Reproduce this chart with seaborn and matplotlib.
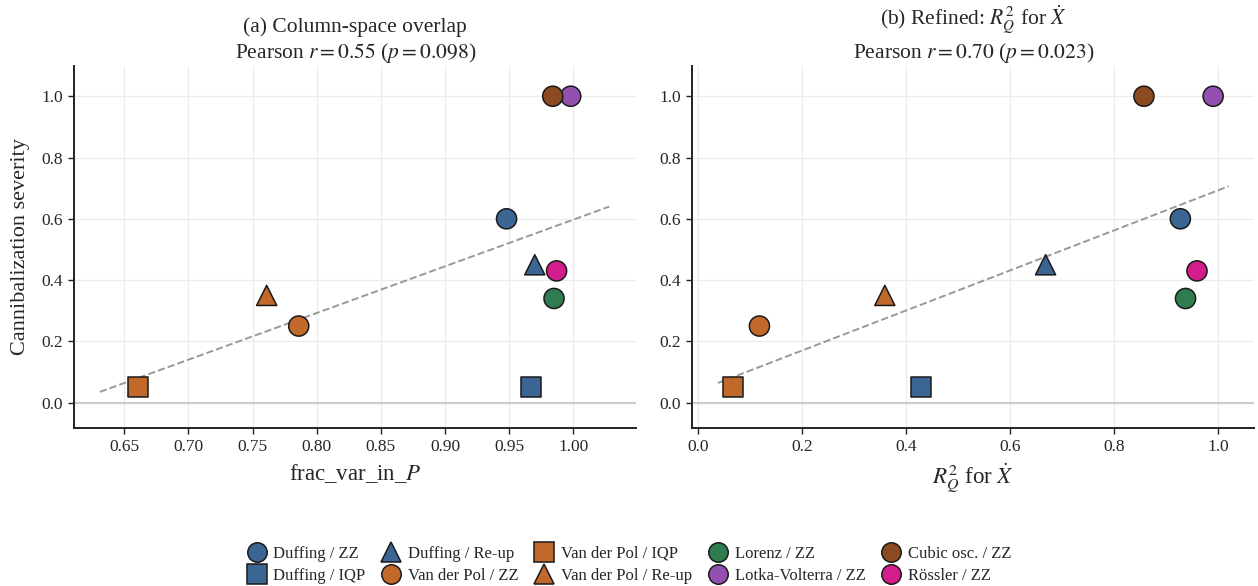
import numpy as np
import pandas as pd
import matplotlib.pyplot as plt
import seaborn as sns
from matplotlib.lines import Line2D

# -----------------------------
# Data
# -----------------------------
labels = [
    "Duffing / ZZ", "Duffing / IQP", "Duffing / Re-up",
    "Van der Pol / ZZ", "Van der Pol / IQP", "Van der Pol / Re-up",
    "Lorenz / ZZ", "Lotka-Volterra / ZZ", "Cubic osc. / ZZ", "Rössler / ZZ",
]
severity = [0.60, 0.05, 0.45, 0.25, 0.05, 0.35, 0.34, 1.00, 1.00, 0.43]
frac_var_in_P = [0.948, 0.967, 0.970, 0.786, 0.661, 0.761, 0.985, 0.998, 0.984, 0.987]
r2_q_xdot = [0.927, 0.428, 0.668, 0.118, 0.068, 0.359, 0.937, 0.990, 0.857, 0.959]

colors = {
    "Duffing / ZZ": "#3b6593", "Duffing / IQP": "#3b6593", "Duffing / Re-up": "#3b6593",
    "Van der Pol / ZZ": "#c0692a", "Van der Pol / IQP": "#c0692a", "Van der Pol / Re-up": "#c0692a",
    "Lorenz / ZZ": "#2e7d50", "Lotka-Volterra / ZZ": "#9450b0",
    "Cubic osc. / ZZ": "#8b4a20", "Rössler / ZZ": "#d41d8c",
}
markers = {
    "Duffing / ZZ": "o", "Duffing / IQP": "s", "Duffing / Re-up": "^",
    "Van der Pol / ZZ": "o", "Van der Pol / IQP": "s", "Van der Pol / Re-up": "^",
    "Lorenz / ZZ": "o", "Lotka-Volterra / ZZ": "o",
    "Cubic osc. / ZZ": "o", "Rössler / ZZ": "o",
}

df = pd.DataFrame({
    "label": labels,
    "severity": severity,
    "frac": frac_var_in_P,
    "r2": r2_q_xdot,
})

# -----------------------------
# Style
# -----------------------------
sns.set_style("whitegrid")
plt.rcParams["font.family"] = ["Liberation Serif", "DejaVu Serif"]
plt.rcParams["mathtext.fontset"] = "stix"
plt.rcParams["grid.color"] = "#ebebeb"
plt.rcParams["grid.linewidth"] = 0.8

fig, axes = plt.subplots(1, 2, figsize=(12.58, 5.86), dpi=100)
fig.subplots_adjust(left=0.059, right=0.997, top=0.887, bottom=0.27, wspace=0.1)

panels = [
    ("frac", "(a) Column-space overlap\nPearson $r = 0.55$ ($p = 0.098$)",
     r"frac_var_in_$P$", (0.611, 1.049), [0.65, 0.70, 0.75, 0.80, 0.85, 0.90, 0.95, 1.00], "{:.2f}"),
    ("r2", "(b) Refined: $R^2_Q$ for $\\dot{X}$\nPearson $r = 0.70$ ($p = 0.023$)",
     r"$R^2_Q$ for $\dot{X}$", (-0.011, 1.069), [0.0, 0.2, 0.4, 0.6, 0.8, 1.0], "{:.1f}"),
]

for ax, (col, title, xlabel, xlim, xticks, fmt) in zip(axes, panels):
    ax.axhline(0, color="#cccccc", lw=1.5, zorder=1)

    # least-squares trend line over data range +/- 0.03
    slope, icpt = np.polyfit(df[col], df["severity"], 1)
    xs = np.array([df[col].min() - 0.03, df[col].max() + 0.03])
    ax.plot(xs, slope * xs + icpt, ls="--", color="#999999", lw=1.4, zorder=2)

    sns.scatterplot(
        data=df, x=col, y="severity", hue="label", style="label",
        palette=colors, markers=markers, s=210, edgecolor="#1a1a1a",
        linewidth=1.1, ax=ax, legend=False, zorder=3,
    )

    ax.set_xlim(*xlim)
    ax.set_ylim(-0.082, 1.098)
    ax.set_xticks(xticks)
    ax.set_xticklabels([fmt.format(t) for t in xticks])
    ax.set_yticks([0.0, 0.2, 0.4, 0.6, 0.8, 1.0])
    ax.set_yticklabels(["0.0", "0.2", "0.4", "0.6", "0.8", "1.0"])
    ax.tick_params(axis="both", labelsize=12.5, length=4, width=1, direction="out",
                   left=True, bottom=True, color="#222222", pad=4)
    ax.set_title(title, fontsize=15.5, linespacing=1.25, pad=6)
    ax.set_xlabel(xlabel, fontsize=16.5, labelpad=5)
    ax.set_ylabel("")
    for side in ["top", "right"]:
        ax.spines[side].set_visible(False)
    for side in ["left", "bottom"]:
        ax.spines[side].set_color("#222222")
        ax.spines[side].set_linewidth(1.4)

axes[0].set_ylabel("Cannibalization severity", fontsize=16, labelpad=8)

# -----------------------------
# Shared legend at bottom
# -----------------------------
handles = [
    Line2D([0], [0], marker=markers[l], color="none", markerfacecolor=colors[l],
           markeredgecolor="#1a1a1a", markeredgewidth=1.1, markersize=14, label=l)
    for l in labels
]
fig.legend(handles=handles, loc="lower center", ncol=5, frameon=False,
           bbox_to_anchor=(0.5, -0.022), fontsize=12, handletextpad=0.4,
           columnspacing=0.95, labelspacing=0.38, handlelength=1.2)

plt.savefig("out.png", dpi=100)
plt.close()
